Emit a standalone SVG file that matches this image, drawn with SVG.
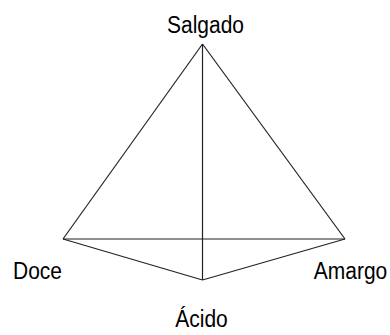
<svg xmlns="http://www.w3.org/2000/svg" width="390" height="335" viewBox="0 0 390 335">
<style>
.lbl{font-family:"Liberation Sans",Arial,sans-serif;font-size:21px;fill:#000;text-anchor:middle}
.edge{stroke:#222;stroke-width:1.2;fill:none}
</style>
<rect width="390" height="335" fill="#fff"/>
<g id="connectors">
<line class="edge" x1="202.5" y1="44" x2="63" y2="239"/>
<line class="edge" x1="202.5" y1="44" x2="345" y2="239"/>
<line class="edge" x1="202.5" y1="44" x2="202.5" y2="280"/>
<line class="edge" x1="63" y1="239" x2="345" y2="239"/>
<line class="edge" x1="63" y1="239" x2="202.5" y2="280"/>
<line class="edge" x1="345" y1="239" x2="202.5" y2="280"/>
</g>
<g id="salgado"><text class="lbl" transform="translate(205.5,33) scale(1,1.1)">Salgado</text></g>
<g id="doce"><text class="lbl" transform="translate(37.5,279) scale(1,1.1)">Doce</text></g>
<g id="amargo"><text class="lbl" transform="translate(350.5,279) scale(1,1.1)">Amargo</text></g>
<g id="acido"><text class="lbl" transform="translate(201.5,327) scale(1,1.1)">Ácido</text></g>
</svg>
